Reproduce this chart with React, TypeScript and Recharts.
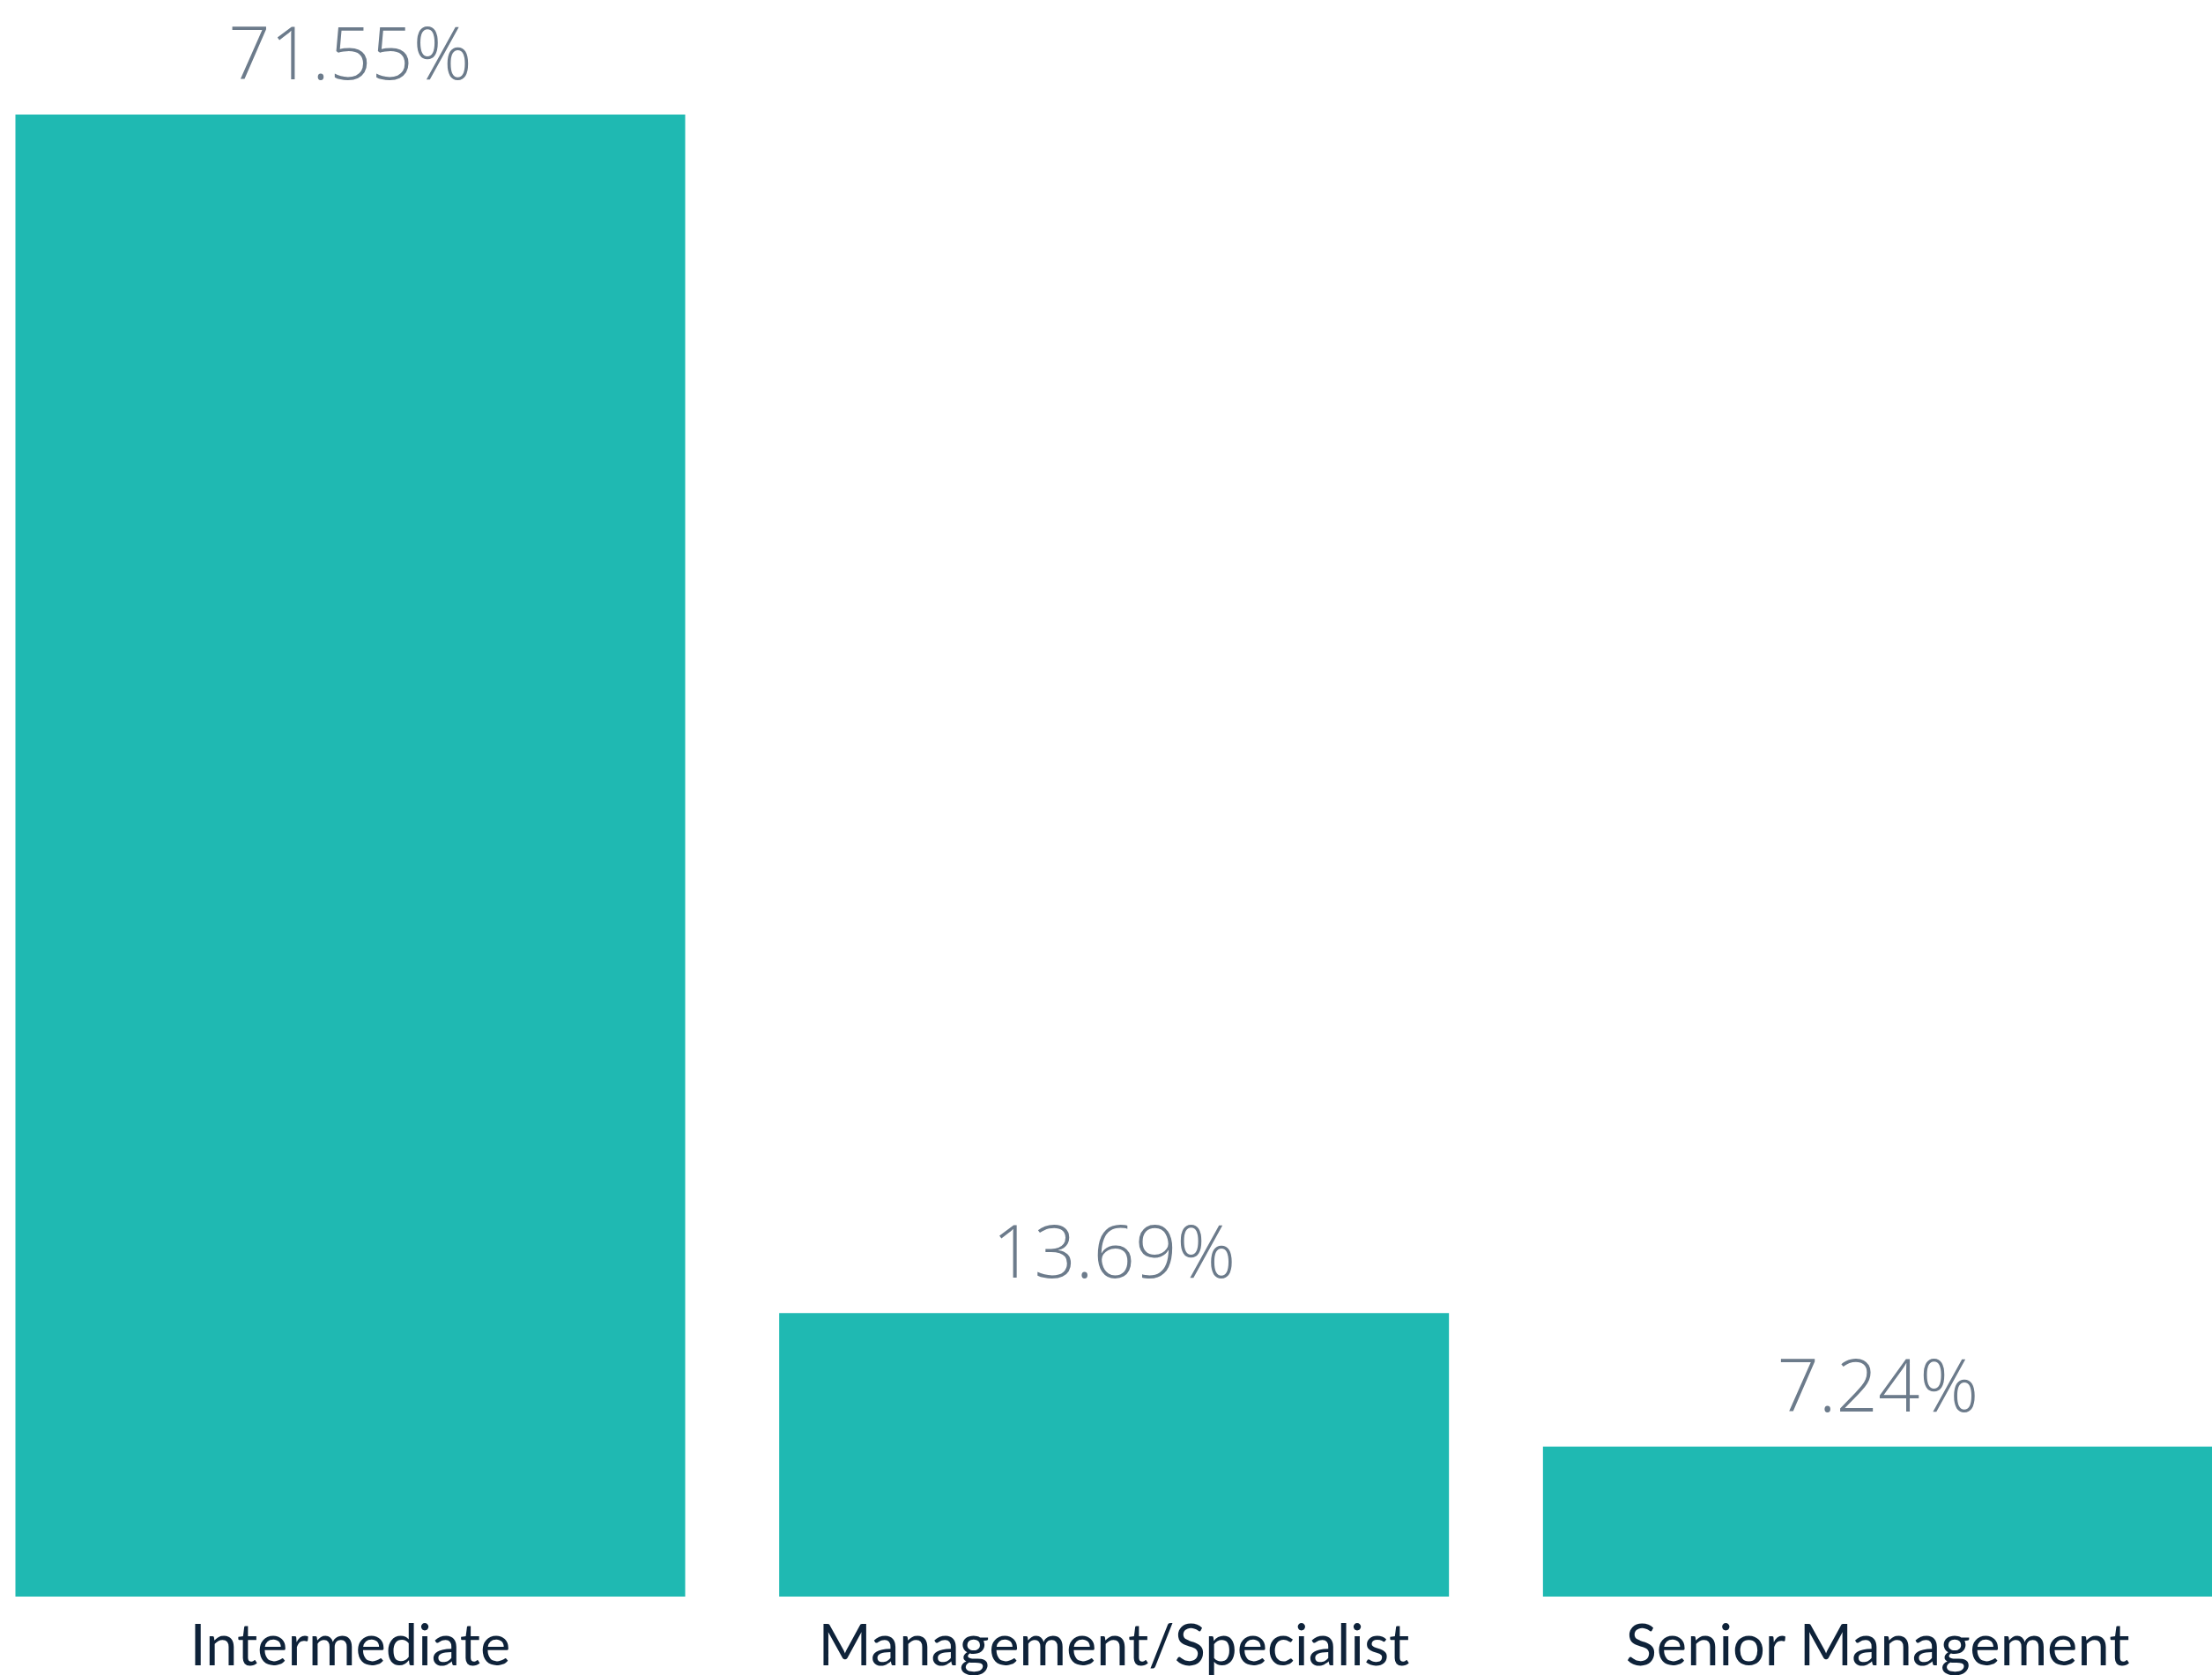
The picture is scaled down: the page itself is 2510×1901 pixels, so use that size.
import React from "react";
import { BarChart, Bar, XAxis, YAxis, LabelList } from "recharts";

const categories = ["Intermediate", "Management/Specialist", "Senior Management"];
const shares = [71.55, 13.69, 7.24];

const data = categories.map((name, i) => ({ name, value: shares[i] }));

const BAR_COLOR = "#1FB9B2";
const VALUE_COLOR = "#6C7B8B";
const TICK_COLOR = "#0E2239";
const VALUE_FONT = "'Open Sans', 'Noto Sans', sans-serif";
const TICK_FONT = "Lato, 'Open Sans', sans-serif";

const App = () => {
  return (
    <div
      style={{
        position: "absolute",
        left: 0,
        top: 0,
        width: 2510,
        height: 1901,
        overflow: "hidden",
        background: "#fff",
      }}
    >
      <div style={{ position: "absolute", left: -36.5, top: 0 }}>
        <BarChart
          width={2600}
          height={1901}
          data={data}
          margin={{ top: 130, right: 0, bottom: 0, left: 0 }}
          barCategoryGap={53.5}
        >
          <XAxis
            dataKey="name"
            axisLine={false}
            tickLine={false}
            tickSize={0}
            tickMargin={32}
            height={89}
            interval={0}
            tick={{ fill: TICK_COLOR, fontSize: 65, fontFamily: TICK_FONT }}
          />
          <YAxis hide domain={[0, "dataMax"]} />
          <Bar dataKey="value" fill={BAR_COLOR} isAnimationActive={false}>
            <LabelList
              dataKey="value"
              position="top"
              offset={40}
              formatter={(v: number) => `${v.toFixed(2)}%`}
              fill={VALUE_COLOR}
              style={{ fontSize: 83, fontFamily: VALUE_FONT, fontWeight: 300 }}
            />
          </Bar>
        </BarChart>
      </div>
    </div>
  );
};

export default App;
